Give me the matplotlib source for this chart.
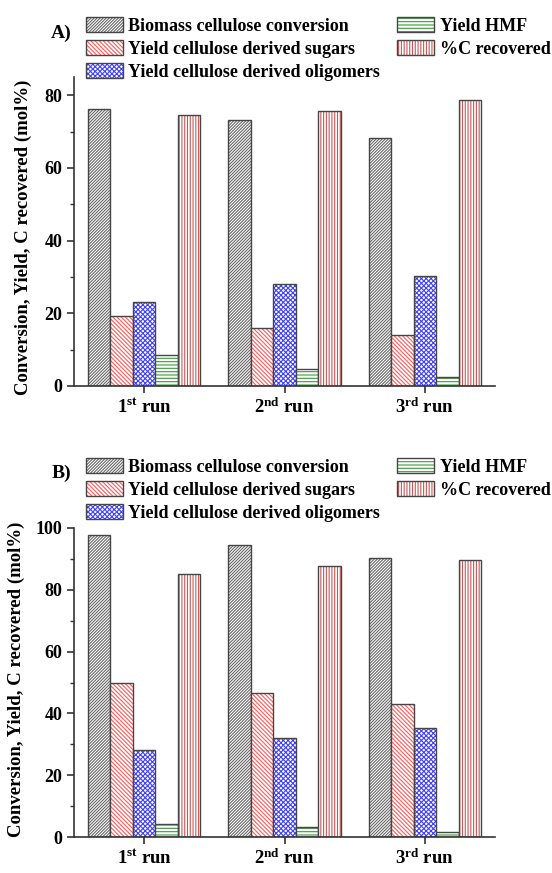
import numpy as np
import matplotlib
matplotlib.use('Agg')
import matplotlib.pyplot as plt
from matplotlib.ticker import MultipleLocator

plt.rcParams['font.family'] = 'Liberation Serif'
plt.rcParams['font.weight'] = 'bold'
plt.rcParams['mathtext.fontset'] = 'custom'
plt.rcParams['mathtext.rm'] = 'Liberation Serif:bold'
plt.rcParams['mathtext.it'] = 'Liberation Serif:bold'
plt.rcParams['mathtext.default'] = 'rm'
plt.rcParams['hatch.linewidth'] = 0.8

runs = ['1$^{st}$ run', '2$^{nd}$ run', '3$^{rd}$ run']
series = ['Biomass cellulose conversion', 'Yield cellulose derived sugars',
          'Yield cellulose derived oligomers', 'Yield HMF', '%C recovered']

# A) values per run
conv_a = [76.3, 73.1, 68.3]
sugars_a = [19.2, 16.0, 14.0]
oligo_a = [23.1, 28.0, 30.3]
hmf_a = [8.5, 4.8, 2.5]
carbon_a = [74.5, 75.7, 78.6]

# B) values per run
conv_b = [97.6, 94.4, 90.2]
sugars_b = [49.7, 46.7, 42.9]
oligo_b = [28.3, 31.9, 35.2]
hmf_b = [4.3, 3.2, 1.6]
carbon_b = [85.1, 87.6, 89.8]

hatches = ['/' * 11, '\\' * 8, 'x' * 7, '-' * 5, '|' * 6]
hatch_cols = ['#6a6a6a', '#ff5a5a', '#4040ff', '#3a9a3a', '#c85858']
edge = '#454545'

W, H = 552, 873
fig = plt.figure(figsize=(W / 100, H / 100), dpi=100)


def draw_panel(rect, data, ymax, tag, leg_top, tag_y, lab_x, lab_y):
    ax = fig.add_axes(rect)
    x = np.arange(len(runs))
    w = 0.16
    handles = []
    for i, vals in enumerate(data):
        pos = x + (i - 2) * w
        b1 = ax.bar(pos, vals, w, color='white', edgecolor=hatch_cols[i],
                    hatch=hatches[i], linewidth=0)
        b2 = ax.bar(pos, vals, w, fill=False, edgecolor=edge, linewidth=1.0)
        handles.append((b1.patches[0], b2.patches[0]))

    ax.set_xlim(-0.5, 2.5)
    ax.set_ylim(0, ymax)
    ax.set_xticks(x)
    ax.set_xticklabels(runs)
    ax.set_yticks(np.arange(0, ymax + 1, 20))
    ax.yaxis.set_minor_locator(MultipleLocator(10))
    ax.tick_params(axis='both', which='major', direction='out', length=5,
                   width=1.2, color='#333333', labelsize=13)
    ax.tick_params(axis='y', which='minor', direction='out', length=3,
                   width=1.0, color='#333333')
    ax.tick_params(axis='x', labelsize=13.5)
    for s in ['top', 'right']:
        ax.spines[s].set_visible(False)
    for s in ['left', 'bottom']:
        ax.spines[s].set_linewidth(1.2)
        ax.spines[s].set_color('#333333')

    ax.set_ylabel('Conversion, Yield, C recovered (mol%)', fontsize=13.5,
                  fontweight='bold')
    ax.yaxis.set_label_coords(lab_x, lab_y)

    fig.legend(handles, series, loc='upper left',
               bbox_to_anchor=(86 / W, 1 - leg_top / H),
               bbox_transform=fig.transFigure, ncol=2, frameon=False,
               fontsize=13, handlelength=2.05, handleheight=0.9,
               handletextpad=0.3, columnspacing=0.95, labelspacing=0.3,
               borderpad=0, borderaxespad=0)
    fig.text(61.5 / W, 1 - tag_y / H, tag, ha='center', va='center',
             fontsize=14, fontweight='bold')
    return ax


axw = (495 - 74) / W
draw_panel([74 / W, 1 - 386 / H, axw, (386 - 77) / H],
           [conv_a, sugars_a, oligo_a, hmf_a, carbon_a], 85, 'A)', 17, 33,
           -0.0998, 0.48)
draw_panel([74 / W, 1 - 837 / H, axw, (837 - 528) / H],
           [conv_b, sugars_b, oligo_b, hmf_b, carbon_b], 100, 'B)', 458, 473,
           -0.116, 0.51)

fig.savefig('out.png', dpi=100)
